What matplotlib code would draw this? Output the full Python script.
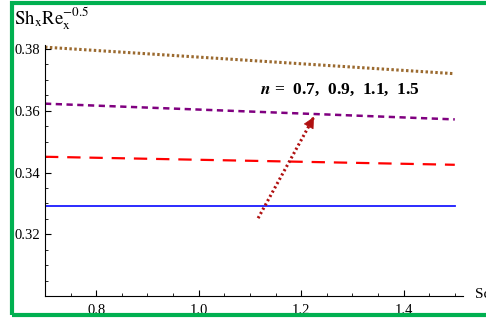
import matplotlib
matplotlib.use('Agg')
import matplotlib.pyplot as plt
from matplotlib.patches import Rectangle

plt.rcParams['font.family'] = ['Liberation Serif', 'DejaVu Serif']
plt.rcParams['mathtext.fontset'] = 'stix'

# Sherwood number curves vs Schmidt number, one per power-law index n
sc = [0.7, 1.5]
sh_n07 = [0.3806, 0.3720]
sh_n09 = [0.3623, 0.3572]
sh_n11 = [0.3451, 0.3425]
sh_n15 = [0.3290, 0.3290]

arrow_x = [1.116, 1.225]
arrow_y = [0.3252, 0.3580]
label_pos = (1.12, 0.3668)

fig = plt.figure(figsize=(4.86, 3.2), dpi=100)
ax = fig.add_axes([45 / 486, 1 - 296 / 320, 418 / 486, 251 / 320])

ax.plot(sc, sh_n07, color='#9b6a2f', lw=2.2, dashes=(0.8, 0.8))
ax.plot(sc, sh_n09, color='#800080', lw=1.8, dashes=(2.5, 1.8))
ax.plot(sc, sh_n11, color='#ff0000', lw=1.6, dashes=(6, 4))
ax.plot(sc, sh_n15, color='#1a1aff', lw=1.3)

# dotted arrow pointing along increasing n
ax.plot(arrow_x, arrow_y, color='#b01010', lw=2.2, dashes=(0.7, 0.9))
ax.annotate('', xy=(arrow_x[1], arrow_y[1]),
            xytext=(arrow_x[1] - 0.004, arrow_y[1] - 0.0012),
            arrowprops=dict(arrowstyle='-|>', color='#b01010', lw=0.5,
                            mutation_scale=18))
ax.text(*label_pos, r'$\boldsymbol{n}$ =  0.7,  0.9,  1.1,  1.5',
        fontsize=12.5, fontweight='bold', va='center')

ax.set_xlim(0.7, 1.516)
ax.set_ylim(0.30, 0.3813)
ax.set_xticks([0.8, 1.0, 1.2, 1.4])
ax.set_xticks([0.75 + 0.05 * i for i in range(16)], minor=True)
ax.set_yticks([0.32, 0.34, 0.36, 0.38])
ax.set_yticks([0.305 + 0.005 * i for i in range(16)], minor=True)
ax.tick_params(direction='in', length=4, width=0.8, labelsize=10.5)
ax.tick_params(which='minor', direction='in', length=2.5, width=0.6)
ax.tick_params(axis='x', pad=6)
for side in ('top', 'right'):
    ax.spines[side].set_visible(False)

fig.text(14 / 486, 1 - 19 / 320, r'$\mathrm{Sh_x Re_x^{-0.5}}$',
         fontsize=13.5, va='center')
fig.text(475 / 486, 1 - 295 / 320, 'Sc', fontsize=11, va='center')

# green frame around the panel
fig.add_artist(Rectangle((12 / 486, 5 / 320), 1.0, 312 / 320,
                         transform=fig.transFigure, fill=False,
                         edgecolor='#00b050', lw=3))

fig.savefig('out.png', dpi=100)
